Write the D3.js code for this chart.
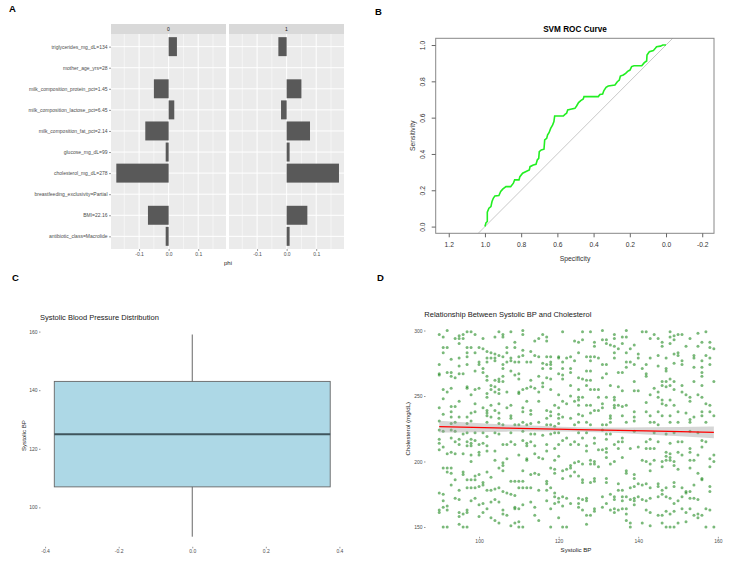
<!DOCTYPE html>
<html>
<head>
<meta charset="utf-8">
<script src="https://cdn.jsdelivr.net/npm/d3@7"></script>
<style>
body { margin: 0; background: #fff; }
svg { font-family: "Liberation Sans", Arial, sans-serif; }
</style>
</head>
<body>
<script>
// ---- panel A: phi per feature, faceted by class ----
var features = ["triglycerides_mg_dL=134", "mother_age_yrs=28", "milk_composition_protein_pct=1.45",
    "milk_composition_lactose_pct=6.45", "milk_composition_fat_pct=2.14", "glucose_mg_dL=99",
    "cholesterol_mg_dL=278", "breastfeeding_exclusivity=Partial", "BMI=22.16", "antibiotic_class=Macrolide"];
var phiClass0 = [0.028, 0, -0.050, 0.019, -0.079, -0.010, -0.177, 0, -0.070, -0.010];
var phiClass1 = [-0.028, 0, 0.050, -0.019, 0.079, 0.010, 0.177, 0, 0.070, 0.010];
var facetNames = ["0", "1"];
var phiTicks = [-0.1, 0, 0.1];
var phiMinor = [-0.15, -0.05, 0.05, 0.15];

// ---- panel B: ROC curve (specificity, sensitivity) ----
var rocSpec = [1.000, 0.994, 0.987, 0.987, 0.978, 0.967, 0.961, 0.954, 0.945, 0.923, 0.913, 0.902, 0.884, 0.858,
    0.843, 0.836, 0.812, 0.807, 0.792, 0.770, 0.755, 0.751, 0.733, 0.718, 0.711, 0.703, 0.700, 0.689, 0.674,
    0.670, 0.659, 0.654, 0.646, 0.637, 0.626, 0.619, 0.615, 0.567, 0.558, 0.549, 0.543, 0.527, 0.503, 0.494,
    0.483, 0.471, 0.457, 0.453, 0.374, 0.365, 0.350, 0.343, 0.331, 0.319, 0.282, 0.269, 0.258, 0.252, 0.236,
    0.223, 0.212, 0.199, 0.190, 0.177, 0.134, 0.120, 0.107, 0.105, 0.092, 0.070, 0.059, 0.052, 0.031, 0.018, 0.000];
var rocSens = [0.000, 0.022, 0.028, 0.079, 0.101, 0.110, 0.138, 0.156, 0.169, 0.171, 0.193, 0.206, 0.220, 0.220,
    0.239, 0.257, 0.257, 0.275, 0.294, 0.305, 0.312, 0.330, 0.339, 0.343, 0.367, 0.376, 0.413, 0.422, 0.426,
    0.477, 0.486, 0.505, 0.517, 0.541, 0.560, 0.578, 0.609, 0.609, 0.618, 0.624, 0.642, 0.646, 0.651, 0.664,
    0.683, 0.694, 0.703, 0.716, 0.716, 0.728, 0.730, 0.749, 0.767, 0.774, 0.780, 0.798, 0.807, 0.829, 0.835,
    0.844, 0.855, 0.862, 0.881, 0.886, 0.886, 0.903, 0.912, 0.945, 0.963, 0.969, 0.982, 0.991, 0.994, 1.000, 1.000];
var specTicks = [1.2, 1.0, 0.8, 0.6, 0.4, 0.2, 0.0, -0.2];
var sensTicks = [0.0, 0.2, 0.4, 0.6, 0.8, 1.0];

// ---- panel C: systolic BP boxplot (min, q1, median, q3, max) ----
var bpBox = [90, 107, 125, 143, 159];
var bpTicks = [100, 120, 140, 160];
var boxXTicks = [-0.4, -0.2, 0.0, 0.2, 0.4];

// ---- panel D: systolic BP vs cholesterol ----
var bpChol = [[92,300],[90,297],[91,295],[97,299],[98,299],[99,297],[96,297],[95,296],[94,294],[95,294],[96,294],[101,294],[105,299],[106,297],[106,295],[104,295],[108,299],[111,300],[111,297],[116,297],[117,295],[117,292],[115,294],[121,299],[124,292],[114,292],[109,291],[109,287],[107,287],[91,287],[92,287],[95,290],[97,287],[97,283],[97,280],[98,287],[100,287],[101,286],[102,284],[103,283],[99,283],[91,283],[104,282],[105,281],[104,279],[104,277],[106,280],[107,283],[108,279],[109,276],[110,280],[111,281],[112,276],[111,285],[113,284],[114,281],[113,276],[115,280],[117,280],[118,280],[118,276],[120,280],[120,279],[121,276],[123,280],[122,279],[124,277],[90,274],[93,278],[95,279],[95,273],[97,274],[100,274],[100,276],[102,279],[102,276],[103,279],[106,274],[106,271],[107,276],[108,277],[110,276],[116,275],[116,271],[117,274],[118,274],[118,271],[121,271],[123,268],[123,271],[90,267],[90,266],[92,268],[93,268],[93,265],[94,264],[95,267],[96,267],[99,269],[101,271],[101,268],[102,265],[102,262],[103,258],[104,262],[105,263],[105,261],[106,265],[106,261],[108,269],[109,266],[110,267],[110,263],[112,256],[113,262],[114,256],[115,265],[116,260],[116,257],[117,264],[118,263],[120,267],[121,266],[121,263],[123,258],[91,255],[92,253],[93,256],[97,256],[97,257],[98,251],[99,255],[100,256],[103,255],[104,257],[104,253],[105,255],[105,252],[102,252],[102,249],[107,253],[110,253],[111,255],[110,252],[113,257],[115,253],[118,255],[120,251],[123,250],[91,248],[90,241],[93,242],[94,242],[95,246],[99,244],[101,241],[102,239],[103,243],[104,239],[105,244],[107,241],[108,243],[111,241],[111,238],[112,246],[113,239],[113,236],[115,246],[117,239],[118,238],[119,243],[120,241],[121,246],[122,244],[124,246],[91,236],[93,238],[93,234],[95,234],[97,234],[98,237],[99,238],[102,237],[102,235],[103,234],[105,237],[105,233],[108,235],[108,233],[109,228],[110,228],[111,230],[115,230],[117,233],[118,235],[120,236],[120,233],[121,234],[123,233],[90,231],[93,229],[94,230],[97,229],[98,231],[102,230],[105,229],[106,228],[112,228],[113,229],[117,228],[118,228],[119,227],[120,229],[124,228],
    [126,299],[128,299],[131,300],[131,293],[132,293],[134,297],[134,294],[136,295],[137,300],[137,295],[141,299],[142,299],[144,297],[145,294],[148,299],[148,295],[149,296],[149,293],[150,297],[151,297],[153,294],[155,298],[157,299],[125,291],[126,293],[129,291],[129,288],[132,290],[133,289],[134,288],[135,286],[136,290],[139,289],[138,286],[143,294],[146,291],[146,288],[148,290],[152,288],[156,291],[158,291],[158,287],[159,286],[125,283],[127,280],[128,280],[128,277],[129,280],[130,279],[131,274],[132,274],[134,283],[134,279],[137,283],[137,276],[137,272],[138,276],[139,274],[140,282],[140,279],[141,271],[142,274],[142,267],[143,279],[145,281],[145,273],[147,279],[147,271],[147,269],[149,282],[149,275],[150,281],[151,277],[151,274],[150,283],[154,281],[154,279],[155,288],[156,277],[157,281],[158,279],[158,274],[154,272],[156,272],[156,268],[156,265],[127,269],[128,269],[125,264],[126,263],[127,262],[128,262],[127,258],[131,264],[132,267],[135,268],[136,268],[139,261],[142,265],[146,261],[147,261],[148,263],[149,261],[148,258],[147,257],[146,258],[149,255],[151,258],[154,261],[156,258],[159,261],[125,255],[125,249],[125,247],[126,249],[128,255],[129,255],[130,255],[130,249],[132,249],[133,258],[134,249],[134,247],[135,257],[136,254],[139,254],[140,254],[142,245],[143,251],[144,256],[145,253],[145,249],[146,247],[146,244],[147,243],[148,247],[149,243],[151,253],[152,251],[153,249],[153,246],[155,251],[156,249],[157,244],[158,243],[125,243],[127,243],[128,243],[131,244],[131,241],[134,243],[134,241],[135,243],[136,242],[137,243],[129,239],[130,239],[128,237],[125,236],[126,235],[133,235],[133,233],[136,235],[139,238],[139,234],[142,238],[143,235],[145,238],[146,235],[148,235],[150,238],[152,237],[153,232],[153,230],[154,234],[156,238],[156,235],[158,238],[159,235],[125,230],[127,230],[128,228],[131,228],[132,228],[133,230],[137,230],[139,231],[143,230],[144,230],[145,228],[148,230],[150,230],[157,230],
    [90,224],[91,223],[93,224],[94,223],[96,221],[97,222],[99,222],[101,222],[102,219],[104,222],[105,221],[108,222],[111,223],[113,221],[114,221],[116,220],[118,221],[119,222],[120,222],[122,218],[90,217],[90,214],[91,211],[93,218],[94,215],[95,217],[95,213],[97,215],[97,212],[98,217],[98,214],[98,212],[99,216],[100,213],[101,214],[102,212],[106,213],[107,213],[108,215],[109,213],[111,216],[112,214],[112,212],[113,215],[114,212],[117,213],[117,208],[119,210],[120,213],[121,216],[123,213],[124,215],[90,209],[92,206],[93,207],[94,206],[96,206],[98,205],[98,200],[100,207],[100,205],[102,208],[104,208],[104,201],[106,199],[106,197],[107,202],[110,205],[112,202],[112,201],[114,206],[115,203],[116,202],[119,201],[120,204],[123,197],[124,199],[91,195],[92,195],[92,192],[93,195],[93,191],[94,186],[96,192],[96,190],[97,186],[98,186],[99,189],[99,186],[100,190],[101,184],[102,192],[103,188],[105,195],[106,193],[108,185],[109,185],[110,185],[111,193],[111,185],[113,190],[114,191],[115,190],[117,185],[117,183],[118,195],[119,194],[119,191],[121,193],[121,187],[122,194],[123,195],[123,189],[124,192],[93,182],[95,178],[97,180],[98,180],[99,180],[100,181],[101,182],[102,178],[103,178],[104,179],[105,180],[106,177],[107,176],[108,175],[109,174],[110,180],[111,180],[112,180],[113,180],[115,178],[117,178],[118,180],[119,176],[119,173],[120,172],[121,173],[122,172],[90,176],[91,175],[91,170],[92,166],[92,163],[94,172],[95,171],[98,170],[99,172],[100,167],[101,168],[102,164],[103,169],[104,171],[105,169],[106,163],[109,165],[109,164],[110,164],[111,167],[113,169],[114,165],[117,170],[118,164],[119,168],[120,169],[121,166],[123,168],[90,163],[90,161],[91,165],[95,161],[95,158],[96,160],[97,161],[97,163],[100,158],[101,161],[103,157],[104,155],[105,153],[106,160],[107,159],[109,153],[110,154],[114,159],[115,155],[120,157],[91,150],[92,150],[95,152],[96,150],[97,150],[108,151],[110,150],[111,150],[118,150],[121,150],[122,150],
    [125,222],[127,222],[131,224],[132,221],[133,221],[139,223],[144,222],[147,221],[149,222],[153,223],[155,222],[126,218],[129,218],[132,217],[135,215],[136,218],[136,215],[142,215],[143,217],[145,215],[148,214],[150,215],[151,215],[156,216],[157,215],[125,213],[127,212],[127,208],[129,214],[130,209],[131,209],[132,210],[132,207],[134,213],[135,210],[138,210],[140,211],[142,210],[143,210],[144,210],[147,207],[147,204],[148,206],[148,203],[148,201],[150,207],[151,205],[153,210],[153,207],[155,205],[156,211],[158,202],[159,205],[125,200],[126,198],[128,201],[128,198],[129,200],[129,198],[130,196],[132,203],[133,198],[134,200],[136,203],[137,193],[137,191],[139,190],[139,187],[141,201],[142,200],[143,198],[143,193],[144,201],[146,200],[146,196],[147,201],[149,200],[149,197],[150,194],[153,201],[154,201],[153,195],[155,191],[156,187],[158,196],[159,200],[125,189],[126,186],[126,184],[128,184],[129,187],[129,185],[132,187],[132,184],[135,183],[135,178],[136,178],[138,180],[139,181],[140,183],[141,182],[142,183],[143,180],[145,181],[145,183],[146,178],[147,180],[149,184],[149,181],[151,180],[152,177],[153,177],[154,182],[156,186],[158,181],[158,177],[125,172],[126,171],[127,172],[127,170],[131,173],[132,168],[133,175],[134,173],[134,171],[136,173],[136,170],[137,173],[138,171],[139,172],[139,170],[140,173],[141,171],[142,170],[143,172],[145,173],[146,175],[147,173],[148,172],[149,168],[150,170],[151,173],[152,176],[153,172],[154,172],[155,171],[157,164],[158,163],[125,168],[125,165],[126,163],[129,164],[129,162],[131,165],[133,163],[134,164],[134,161],[135,163],[136,164],[137,164],[137,160],[139,167],[142,163],[143,161],[145,159],[146,159],[147,162],[148,160],[149,162],[151,164],[152,161],[153,164],[154,159],[155,160],[155,157],[156,159],[127,159],[128,159],[137,155],[138,153],[138,150],[141,153],[143,151],[146,153],[147,150],[148,150],[149,150],[150,153],[152,154],[127,152],[157,150],[159,150]];
var fitBP = [90, 107, 125, 142, 159];
var fitChol = [226.6, 225.5, 224.4, 223.4, 222.3];
var fitLow = [222.1, 222.8, 222.7, 220.7, 217.8];
var fitHigh = [231.1, 228.2, 226.1, 226.1, 226.8];
var scatterXTicks = [100, 120, 140, 160];
var scatterYTicks = [150, 200, 250, 300];

var w = 750, h = 562;
var svg = d3.select("body").append("svg")
    .attr("width", w)
    .attr("height", h)
    .style("background", "#fff");

var fmt1 = function(d){ return d.toFixed(1); }; // "-0.1" with a plain hyphen, like R

// ggplot-ish axis styling
function styleAxis(g, size){
    g.select(".domain").remove();
    g.selectAll(".tick line").attr("stroke", "#333").attr("stroke-width", 0.5);
    g.selectAll(".tick text").attr("fill", "#4d4d4d").style("font-size", size + "px").attr("font-family", null);
    g.attr("font-family", null);
}

// panel letters
var letters = [["A", 9, 12], ["B", 375, 15], ["C", 12, 281], ["D", 377, 281]];
svg.selectAll(".letter").data(letters).enter().append("text")
    .attr("class", "letter")
    .attr("x", function(d){ return d[1]; })
    .attr("y", function(d){ return d[2]; })
    .style("font-size", "9.5px").style("font-weight", "bold")
    .text(function(d){ return d[0]; });

// ================= A =================
var facetLeft = [111, 229], facetWidth = 115;
var aTop = 34, aBottom = 249;
var yA = d3.scalePoint().domain(features).range([aTop, aBottom]).padding(0.6);
var stepA = yA.step();

[phiClass0, phiClass1].forEach(function(vals, k){
    var x0 = facetLeft[k];
    var xA = d3.scaleLinear().domain([-0.195, 0.194]).range([x0, x0 + facetWidth]);
    var g = svg.append("g").attr("class", "facet");

    g.append("rect").attr("x", x0).attr("y", aTop).attr("width", facetWidth).attr("height", aBottom - aTop)
        .attr("fill", "#ebebeb");
    g.selectAll(".minor").data(phiMinor).enter().append("line")
        .attr("x1", xA).attr("x2", xA).attr("y1", aTop).attr("y2", aBottom)
        .attr("stroke", "#fff").attr("stroke-width", 0.5);
    g.selectAll(".major").data(phiTicks).enter().append("line")
        .attr("x1", xA).attr("x2", xA).attr("y1", aTop).attr("y2", aBottom)
        .attr("stroke", "#fff").attr("stroke-width", 1);
    g.selectAll(".hgrid").data(features).enter().append("line")
        .attr("x1", x0).attr("x2", x0 + facetWidth)
        .attr("y1", function(d){ return yA(d); }).attr("y2", function(d){ return yA(d); })
        .attr("stroke", "#fff").attr("stroke-width", 1);

    g.selectAll(".bar").data(features).enter().append("rect")
        .attr("x", function(d, i){ return Math.min(xA(0), xA(vals[i])); })
        .attr("width", function(d, i){ return Math.abs(xA(vals[i]) - xA(0)); })
        .attr("y", function(d){ return yA(d) - stepA * 0.45; })
        .attr("height", stepA * 0.9)
        .attr("fill", "#595959");

    // strip
    g.append("rect").attr("x", x0).attr("y", 24).attr("width", facetWidth).attr("height", aTop - 24)
        .attr("fill", "#d9d9d9");
    g.append("text").attr("x", x0 + facetWidth / 2).attr("y", 30.8).attr("text-anchor", "middle")
        .style("font-size", "5px").attr("fill", "#1a1a1a").text(facetNames[k]);

    var ax = g.append("g").attr("transform", "translate(0," + aBottom + ")")
        .call(d3.axisBottom(xA).tickValues(phiTicks).tickFormat(fmt1).tickSize(2).tickPadding(1.5));
    styleAxis(ax, 5);
});

var ayA = svg.append("g").attr("transform", "translate(" + facetLeft[0] + ",0)")
    .call(d3.axisLeft(yA).tickSize(2).tickPadding(1.5));
styleAxis(ayA, 5);

svg.append("text").attr("x", 228).attr("y", 264.5).attr("text-anchor", "middle")
    .style("font-size", "6px").attr("fill", "#1a1a1a").text("phi");

// ================= B =================
var bL = 435.7, bR = 714, bT = 38.3, bB = 233.3;
var xB = d3.scaleLinear().domain([1.272, -0.265]).range([bL, bR]);
var yB = d3.scaleLinear().domain([-0.037, 1.037]).range([bB, bT]);

svg.append("clipPath").attr("id", "clipB").append("rect")
    .attr("x", bL).attr("y", bT).attr("width", bR - bL).attr("height", bB - bT);

// chance line sens = 1 - spec, clipped to the box
svg.append("line").attr("clip-path", "url(#clipB)")
    .attr("x1", xB(2)).attr("y1", yB(1 - 2))
    .attr("x2", xB(-1)).attr("y2", yB(1 + 1))
    .attr("stroke", "#c8c8c8").attr("stroke-width", 1);

var rocLine = d3.line()
    .x(function(d){ return xB(d[0]); })
    .y(function(d){ return yB(d[1]); });
svg.append("path").datum(d3.zip(rocSpec, rocSens))
    .attr("d", rocLine)
    .attr("fill", "none").attr("stroke", "#22ee22").attr("stroke-width", 1.6);

svg.append("rect").attr("x", bL).attr("y", bT).attr("width", bR - bL).attr("height", bB - bT)
    .attr("fill", "none").attr("stroke", "#888").attr("stroke-width", 1);

var axB = svg.append("g").attr("transform", "translate(0," + bB + ")")
    .call(d3.axisBottom(xB).tickValues(specTicks).tickFormat(fmt1).tickSize(4).tickPadding(4.5));
axB.select(".domain").remove();
axB.selectAll(".tick line").attr("stroke", "#666");
axB.selectAll(".tick text").attr("fill", "#333").style("font-size", "6.7px");

var ayB = svg.append("g").attr("transform", "translate(" + bL + ",0)")
    .call(d3.axisLeft(yB).tickValues(sensTicks).tickFormat(fmt1).tickSize(4));
ayB.select(".domain").remove();
ayB.selectAll(".tick line").attr("stroke", "#666");
ayB.selectAll(".tick text")
    .attr("x", null).attr("dy", null)
    .attr("text-anchor", "middle")
    .attr("transform", "translate(-10.3,0) rotate(-90)")
    .attr("fill", "#333").style("font-size", "6.7px");

svg.append("text").attr("x", 575).attr("y", 32).attr("text-anchor", "middle")
    .style("font-size", "8.2px").style("font-weight", "bold").text("SVM ROC Curve");
svg.append("text").attr("x", 575).attr("y", 260.5).attr("text-anchor", "middle")
    .style("font-size", "6.8px").attr("fill", "#333").text("Specificity");
svg.append("text").attr("transform", "translate(414.5," + ((bT + bB) / 2) + ") rotate(-90)")
    .attr("text-anchor", "middle").style("font-size", "6.8px").attr("fill", "#333").text("Sensitivity");

// ================= C =================
var xC = d3.scaleLinear().domain([-0.4125, 0.4125]).range([40.5, 344]);
var yC = d3.scaleLinear().domain([86.55, 162.45]).range([546.8, 324.4]);

svg.append("line").attr("x1", xC(0)).attr("x2", xC(0)).attr("y1", yC(bpBox[0])).attr("y2", yC(bpBox[4]))
    .attr("stroke", "#555").attr("stroke-width", 0.9);
svg.append("rect")
    .attr("x", xC(-0.375)).attr("width", xC(0.375) - xC(-0.375))
    .attr("y", yC(bpBox[3])).attr("height", yC(bpBox[1]) - yC(bpBox[3]))
    .attr("fill", "#add8e6").attr("stroke", "#666").attr("stroke-width", 0.9);
svg.append("line").attr("x1", xC(-0.375)).attr("x2", xC(0.375)).attr("y1", yC(bpBox[2])).attr("y2", yC(bpBox[2]))
    .attr("stroke", "#3f555c").attr("stroke-width", 2);

var axC = svg.append("g").attr("transform", "translate(0,546.8)")
    .call(d3.axisBottom(xC).tickValues(boxXTicks).tickFormat(fmt1).tickSize(1.5).tickPadding(1.5));
styleAxis(axC, 5);
var ayC = svg.append("g").attr("transform", "translate(40.5,0)")
    .call(d3.axisLeft(yC).tickValues(bpTicks).tickSize(1.5).tickPadding(1.5));
styleAxis(ayC, 5);

svg.append("text").attr("x", 40).attr("y", 319.5)
    .style("font-size", "7.5px").attr("fill", "#1a1a1a").text("Systolic Blood Pressure Distribution");
svg.append("text").attr("transform", "translate(26.2,435.6) rotate(-90)")
    .attr("text-anchor", "middle").style("font-size", "6.1px").attr("fill", "#1a1a1a").text("Systolic BP");

// ================= D =================
var xD = d3.scaleLinear().domain([86.55, 162.45]).range([425.5, 727.6]);
var yD = d3.scaleLinear().domain([142.5, 307.5]).range([536.8, 320.7]);

svg.selectAll(".pt").data(bpChol).enter().append("circle")
    .attr("class", "pt")
    .attr("cx", function(d){ return xD(d[0]); })
    .attr("cy", function(d){ return yD(d[1]); })
    .attr("r", 1.5)
    .attr("fill", "#228b22").attr("fill-opacity", 0.6);

var band = d3.area()
    .x(function(d){ return xD(d[0]); })
    .y0(function(d){ return yD(d[1]); })
    .y1(function(d){ return yD(d[2]); })
    .curve(d3.curveNatural);
svg.append("path").datum(d3.zip(fitBP, fitLow, fitHigh))
    .attr("d", band).attr("fill", "#999").attr("fill-opacity", 0.4);
svg.append("path").datum(d3.zip(fitBP, fitChol))
    .attr("d", d3.line().x(function(d){ return xD(d[0]); }).y(function(d){ return yD(d[1]); }))
    .attr("fill", "none").attr("stroke", "#ff0000").attr("stroke-width", 1.3);

var axD = svg.append("g").attr("transform", "translate(0,536.8)")
    .call(d3.axisBottom(xD).tickValues(scatterXTicks).tickSize(1.5).tickPadding(1.5));
styleAxis(axD, 5);
var ayD = svg.append("g").attr("transform", "translate(425.5,0)")
    .call(d3.axisLeft(yD).tickValues(scatterYTicks).tickSize(1.5).tickPadding(1.5));
styleAxis(ayD, 5);

svg.append("text").attr("x", 424.3).attr("y", 317)
    .style("font-size", "7.5px").attr("fill", "#1a1a1a").text("Relationship Between Systolic BP and Cholesterol");
svg.append("text").attr("x", 576).attr("y", 552.3).attr("text-anchor", "middle")
    .style("font-size", "6.1px").attr("fill", "#1a1a1a").text("Systolic BP");
svg.append("text").attr("transform", "translate(410.4,428.7) rotate(-90)")
    .attr("text-anchor", "middle").style("font-size", "6.1px").attr("fill", "#1a1a1a").text("Cholesterol (mg/dL)");
</script>
</body>
</html>
